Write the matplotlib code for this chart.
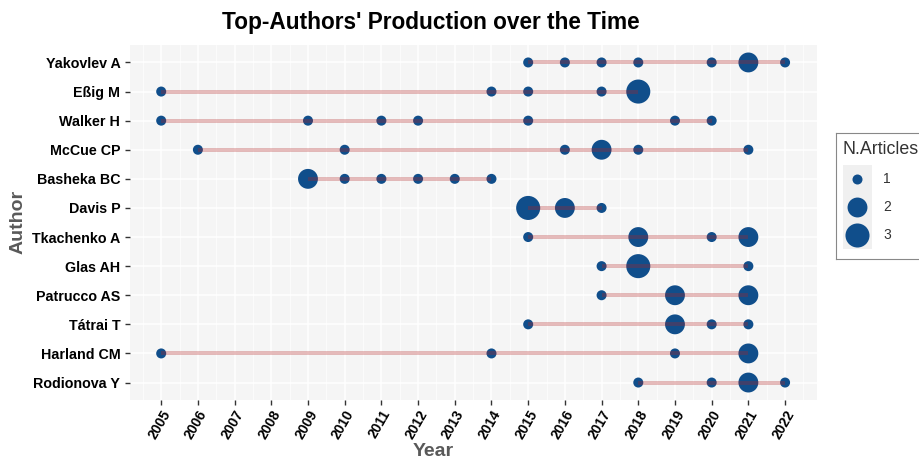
import matplotlib.pyplot as plt
import numpy as np

plt.rcParams['font.family'] = ['Liberation Sans', 'DejaVu Sans']

###数据###
authors = ['Yakovlev A', 'Eßig M', 'Walker H', 'McCue CP', 'Basheka BC', 'Davis P',
           'Tkachenko A', 'Glas AH', 'Patrucco AS', 'Tátrai T', 'Harland CM', 'Rodionova Y']
years = [
    [2015, 2016, 2017, 2018, 2020, 2021, 2022],
    [2005, 2014, 2015, 2017, 2018],
    [2005, 2009, 2011, 2012, 2015, 2019, 2020],
    [2006, 2010, 2016, 2017, 2018, 2021],
    [2009, 2010, 2011, 2012, 2013, 2014],
    [2015, 2016, 2017],
    [2015, 2018, 2020, 2021],
    [2017, 2018, 2021],
    [2017, 2019, 2021],
    [2015, 2019, 2020, 2021],
    [2005, 2014, 2019, 2021],
    [2018, 2020, 2021, 2022],
]
articles = [
    [1, 1, 1, 1, 1, 2, 1],
    [1, 1, 1, 1, 3],
    [1, 1, 1, 1, 1, 1, 1],
    [1, 1, 1, 2, 1, 1],
    [2, 1, 1, 1, 1, 1],
    [3, 2, 1],
    [1, 2, 1, 2],
    [1, 3, 1],
    [1, 2, 2],
    [1, 2, 1, 1],
    [1, 1, 1, 2],
    [1, 1, 2, 1],
]
year_ticks = list(range(2005, 2023))
legend_vals = [1, 2, 3]

size_map = {1: 52, 2: 205, 3: 300}
pointcol = '#104E8B'
linecol = '#B22222'

fig = plt.figure(figsize=(9.2, 4.59), dpi=100)
ax = fig.add_axes([130/920, 1-400/459, 687/920, 355/459])
ax.set_facecolor('#F5F5F5')

n = len(authors)
for i in range(n):
    ypos = n - 1 - i
    yy = [ypos]*len(years[i])
    ss = [size_map[a] for a in articles[i]]
    ax.scatter(years[i], yy, s=ss, color=pointcol, zorder=3, linewidths=0)
    ax.plot([min(years[i]), max(years[i])], [ypos, ypos], color=linecol,
            alpha=0.3, lw=2.8, zorder=4, solid_capstyle='butt')

ax.set_xlim(2004.15, 2022.87)
ax.set_ylim(-0.6, n - 0.4)
ax.set_xticks(year_ticks)
ax.set_xticks(np.arange(2004.5, 2023, 1), minor=True)
ax.set_xticklabels([str(y) for y in year_ticks], rotation=60, fontsize=10,
                   fontweight='bold', ha='right', va='top', rotation_mode='anchor')
ax.set_yticks(range(n))
ax.set_yticklabels(authors[::-1], fontsize=10.3, fontweight='bold')
ax.grid(True, which='major', color='white', lw=1.1, zorder=0)
ax.grid(True, which='minor', axis='x', color='white', lw=0.5, zorder=0)
ax.set_axisbelow(True)
ax.tick_params(axis='both', which='major', length=3.5, color='#333333', width=1)
ax.tick_params(axis='x', which='major', pad=2)
ax.tick_params(axis='both', which='minor', length=0)
for sp in ax.spines.values():
    sp.set_visible(False)

fig.text(431/920, 1-22/459, "Top-Authors' Production over the Time", fontsize=16.3,
         fontweight='bold', ha='center', va='center')
fig.text(18/920, 1-222/459, 'Author', fontsize=14, fontweight='bold', color='#595959',
         rotation=90, ha='center', va='center')
fig.text(433/920, 1-452/459, 'Year', fontsize=14, fontweight='bold', color='#595959',
         ha='center', va='center')

###图例###
lg = fig.add_axes([836/920, 1-259/459, 100/920, 126/459])
lg.set_xlim(0, 100)
lg.set_ylim(126, 0)
lg.set_xticks([])
lg.set_yticks([])
for sp in lg.spines.values():
    sp.set_color('#888888')
    sp.set_linewidth(0.8)
lg.text(7, 17, 'N.Articles', fontsize=12.8, color='#333333', va='center', ha='left')
for k in range(len(legend_vals)):
    cy = 46 + 28*k
    lg.add_patch(plt.Rectangle((7, cy - 14), 29, 28, color='#F0F0F0', lw=0))
    lg.scatter([21.5], [cy], s=size_map[legend_vals[k]], color=pointcol, linewidths=0)
    lg.text(47, cy, str(legend_vals[k]), fontsize=10, color='#333333', va='center')

plt.savefig('out.png', dpi=100)
